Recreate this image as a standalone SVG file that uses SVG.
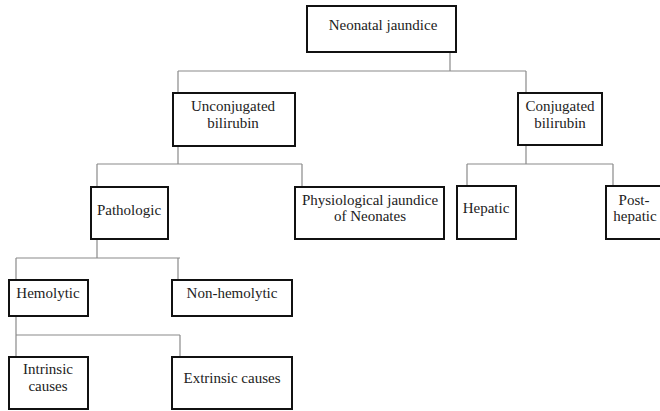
<svg xmlns="http://www.w3.org/2000/svg" width="660" height="411" viewBox="0 0 660 411">
<style>
.box{fill:#fff;stroke:#111;stroke-width:2}
.t{font-family:"Liberation Serif","Times New Roman",serif;font-size:15px;fill:#222;text-anchor:middle}
.c{fill:none;stroke:#8a8a8a;stroke-width:1.2}
</style>
<rect width="660" height="411" fill="#fff"/>
<g id="connectors">
<path class="c" d="M450 52V71M178 71H526M178 71V93M526 71V93"/>
<path class="c" d="M178 146V164M97 164H302M97 164V187M302 164V187"/>
<path class="c" d="M526 145V164M467 164H613M467 164V186M613 164V186"/>
<path class="c" d="M97 239V258M16 258H180M16 258V280M178 258V280"/>
<path class="c" d="M16 316V357M16 335H180M180 335V357"/>
</g>
<g id="n-neonatal"><rect class="box" x="307" y="6" width="149" height="46"/><text class="t" x="383" y="30">Neonatal jaundice</text></g>
<g id="n-unconj"><rect class="box" x="173" y="93" width="122" height="53"/><text class="t" x="233" y="111">Unconjugated</text><text class="t" x="233" y="128">bilirubin</text></g>
<g id="n-conj"><rect class="box" x="518" y="93" width="84" height="52"/><text class="t" x="560" y="111">Conjugated</text><text class="t" x="560" y="128">bilirubin</text></g>
<g id="n-pathologic"><rect class="box" x="91" y="187" width="77" height="52"/><text class="t" x="129" y="215">Pathologic</text></g>
<g id="n-physio"><rect class="box" x="295" y="187" width="149" height="52"/><text class="t" x="370" y="205">Physiological jaundice</text><text class="t" x="370" y="221">of Neonates</text></g>
<g id="n-hepatic"><rect class="box" x="457" y="186" width="59" height="53"/><text class="t" x="486" y="213">Hepatic</text></g>
<g id="n-posthepatic"><rect class="box" x="606" y="186" width="60" height="53"/><text class="t" x="634" y="205">Post-</text><text class="t" x="635" y="221">hepatic</text></g>
<g id="n-hemolytic"><rect class="box" x="9" y="280" width="79" height="36"/><text class="t" x="48" y="298">Hemolytic</text></g>
<g id="n-nonhemolytic"><rect class="box" x="172" y="280" width="120" height="36"/><text class="t" x="232" y="298">Non-hemolytic</text></g>
<g id="n-intrinsic"><rect class="box" x="9" y="357" width="79" height="52"/><text class="t" x="48" y="374">Intrinsic</text><text class="t" x="48" y="391">causes</text></g>
<g id="n-extrinsic"><rect class="box" x="172" y="357" width="120" height="52"/><text class="t" x="232" y="383">Extrinsic causes</text></g>
</svg>
